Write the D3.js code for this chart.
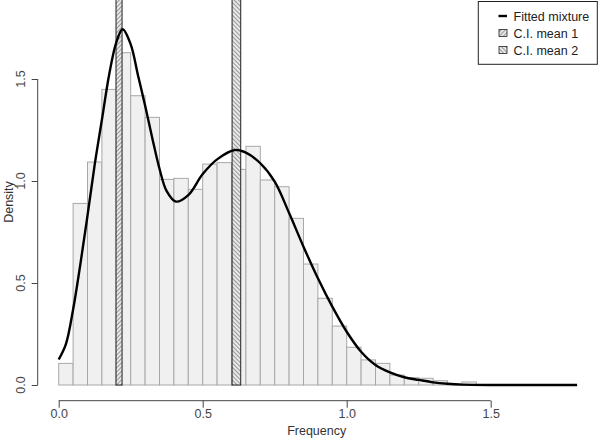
<!DOCTYPE html>
<html>
<head>
<meta charset="utf-8">
<script src="https://cdn.jsdelivr.net/npm/d3@7"></script>
<style>
body{margin:0;background:#fff;}
text{font-family:"Liberation Sans",Arial,sans-serif;}
</style>
</head>
<body>
<div id="chart"></div>
<script>
/* histogram of frequencies with a fitted two-component mixture */

// histogram bins (left edges, width 0.05) and their densities
const binLeft = [0,0.05,0.1,0.15,0.2,0.25,0.3,0.35,0.4,0.45,0.5,0.55,0.6,0.65,0.7,0.75,0.8,0.85,0.9,0.95,
  1.0,1.05,1.1,1.15,1.2,1.25,1.3,1.35,1.4,1.45,1.5,1.55,1.6,1.65,1.7,1.75,1.8];
const binDensity = [0.106,0.89,1.093,1.449,1.629,1.418,1.312,1.008,1.013,0.959,1.083,1.090,1.057,1.170,1.005,0.972,
  0.817,0.593,0.425,0.289,0.185,0.123,0.106,0.049,0.036,0.033,0.021,0.005,0.015,0,0,0,0,0,0,0,0];
const binWidth = 0.05;

// fitted mixture curve
const fitX = [0,0.025,0.05,0.075,0.1,0.125,0.15,0.175,0.2,0.222,0.25,0.275,0.3,0.325,0.35,0.375,0.407,0.45,
  0.5,0.55,0.612,0.65,0.7,0.75,0.8,0.85,0.9,0.95,1.0,1.05,1.1,1.15,1.2,1.25,1.3,1.35,1.4,1.5,1.6,1.7,1.8];
const fitY = [0.125,0.2,0.37,0.59,0.83,1.08,1.30,1.52,1.68,1.744,1.67,1.52,1.37,1.21,1.06,0.95,0.899,0.931,
  1.034,1.106,1.152,1.139,1.087,0.997,0.843,0.678,0.523,0.384,0.261,0.163,0.098,0.062,0.038,0.025,0.013,0.006,0.002,0,0,0,0];

// confidence intervals of the two means
const ciLow = [0.199, 0.602];
const ciHigh = [0.220, 0.632];
const ciTop = 1.9;

const xTicks = [0, 0.5, 1.0, 1.5];
const yTicks = [0, 0.5, 1.0, 1.5];
const legendLabels = ["Fitted mixture", "C.I. mean 1", "C.I. mean 2"];

const W = 600, H = 442;
const svg = d3.select("#chart").append("svg").attr("width", W).attr("height", H);

const x = d3.scaleLinear().domain([0, 1.8]).range([58.7, 58.7 + 1.8 * 288]);
const y = d3.scaleLinear().domain([0, 1.5]).range([385, 79]);

const defs = svg.append("defs");
function hatch(id, angle){
  const p = defs.append("pattern").attr("id", id).attr("patternUnits", "userSpaceOnUse")
    .attr("width", 3).attr("height", 3).attr("patternTransform", `rotate(${angle})`);
  p.append("rect").attr("width", 3).attr("height", 3).attr("fill", "#e8e8e8");
  p.append("line").attr("x1", 0).attr("y1", 0).attr("x2", 0).attr("y2", 3)
    .attr("stroke", "#555").attr("stroke-width", 1.1);
}
hatch("hatch1", 45);
hatch("hatch2", -45);

// histogram bars
svg.append("g").selectAll("rect").data(binLeft).enter().append("rect")
  .attr("x", d => x(d))
  .attr("width", d => x(d + binWidth) - x(d))
  .attr("y", (d, i) => y(binDensity[i]))
  .attr("height", (d, i) => y(0) - y(binDensity[i]))
  .attr("fill", "#f0f0f0")
  .attr("stroke", "#a8a8a8")
  .attr("stroke-width", 1);

// CI bands
svg.append("g").selectAll("rect").data(ciLow).enter().append("rect")
  .attr("x", d => x(d))
  .attr("width", (d, i) => x(ciHigh[i]) - x(d))
  .attr("y", y(ciTop))
  .attr("height", y(0) - y(ciTop))
  .attr("fill", (d, i) => `url(#hatch${i + 1})`)
  .attr("stroke", "#222")
  .attr("stroke-width", 1);

// fitted mixture line
const line = d3.line().x(d => x(d[0])).y(d => y(d[1])).curve(d3.curveCatmullRom.alpha(0.5));
svg.append("path")
  .datum(fitX.map((v, i) => [v, fitY[i]]))
  .attr("d", line)
  .attr("fill", "none")
  .attr("stroke", "#000")
  .attr("stroke-width", 2.4);

// x axis
const axCol = "#444";
const xAx = svg.append("g").attr("transform", "translate(0,400.7)")
  .call(d3.axisBottom(x).tickValues(xTicks).tickSize(7).tickFormat(d3.format(".1f")));
xAx.select(".domain").remove();
xAx.append("line").attr("x1", x(xTicks[0])).attr("x2", x(xTicks[xTicks.length - 1]))
  .attr("stroke", axCol);
xAx.selectAll(".tick line").attr("stroke", axCol);
xAx.selectAll(".tick text").attr("fill", axCol).attr("font-size", 12.5)
  .attr("font-family", "'Liberation Sans',Arial,sans-serif").attr("dy", "0.6em");

// y axis
const yAx = svg.append("g").attr("transform", "translate(37.7,0)")
  .call(d3.axisLeft(y).tickValues(yTicks).tickSize(6).tickFormat(""));
yAx.select(".domain").remove();
yAx.append("line").attr("y1", y(yTicks[0])).attr("y2", y(yTicks[yTicks.length - 1]))
  .attr("stroke", axCol);
yAx.selectAll(".tick line").attr("stroke", axCol);
svg.append("g").selectAll("text").data(yTicks).enter().append("text")
  .attr("transform", d => `translate(24.5,${y(d)}) rotate(-90)`)
  .attr("text-anchor", "middle")
  .attr("font-size", 12.5)
  .attr("fill", axCol)
  .text(d3.format(".1f"));

// axis titles
svg.append("text").attr("x", 316.7).attr("y", 434.5).attr("text-anchor", "middle")
  .attr("font-size", 12.5).attr("fill", "#333").text("Frequency");
svg.append("text").attr("transform", "translate(12.8,202) rotate(-90)").attr("text-anchor", "middle")
  .attr("font-size", 12.5).attr("fill", "#333").text("Density");

// legend
const lg = svg.append("g");
lg.append("rect").attr("x", 478.3).attr("y", 1.5).attr("width", 119).attr("height", 62.8)
  .attr("fill", "#fff").attr("stroke", "#222").attr("stroke-width", 1);
const rowY = [16, 33, 50];
lg.append("line").attr("x1", 498.5).attr("x2", 507).attr("y1", rowY[0]).attr("y2", rowY[0])
  .attr("stroke", "#000").attr("stroke-width", 2.4);
[1, 2].forEach(i => {
  lg.append("rect").attr("x", 499).attr("y", rowY[i] - 3.5).attr("width", 8).attr("height", 7)
    .attr("fill", `url(#hatch${i})`).attr("stroke", "#222").attr("stroke-width", 0.8);
});
lg.selectAll("text.lab").data(legendLabels).enter().append("text")
  .attr("class", "lab")
  .attr("x", 513.5)
  .attr("y", (d, i) => rowY[i] + 4.5)
  .attr("font-size", 12.5)
  .attr("fill", "#222")
  .text(d => d);
</script>
</body>
</html>
